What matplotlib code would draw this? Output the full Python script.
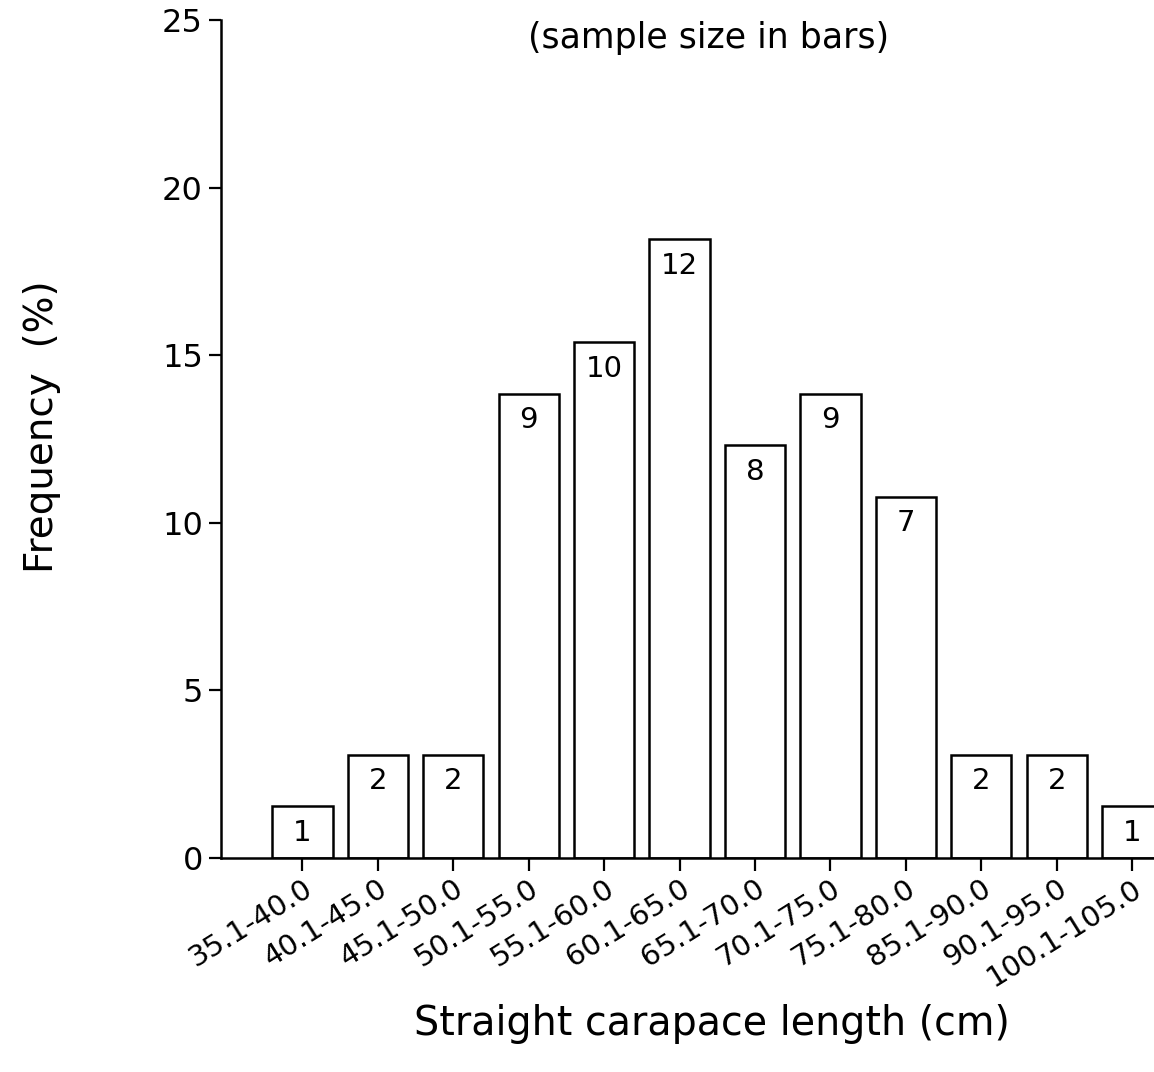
import matplotlib
matplotlib.use("Agg")
import matplotlib.pyplot as plt

plt.rcParams['font.family'] = ['DejaVu Sans']

# Size classes of straight carapace length (cm) and number of turtles in each
classes = ["35.1-40.0", "40.1-45.0", "45.1-50.0", "50.1-55.0", "55.1-60.0",
           "60.1-65.0", "65.1-70.0", "70.1-75.0", "75.1-80.0", "85.1-90.0",
           "90.1-95.0", "100.1-105.0"]
counts = [1, 2, 2, 9, 10, 12, 8, 9, 7, 2, 2, 1]
yticks = [0, 5, 10, 15, 20, 25]

total = sum(counts)
freq = [100.0 * c / total for c in counts]

W, H = 1154, 1072
fig = plt.figure(figsize=(W / 100, H / 100), dpi=100)
ax = fig.add_axes([221 / W, (H - 858) / H, 1 - 221 / W, (858 - 20) / H])

x = list(range(len(classes)))
ax.bar(x, freq, width=0.8, facecolor="white", edgecolor="black", linewidth=1.8)

for xi, f, c in zip(x, freq, counts):
    ax.annotate(str(c), (xi, f), xytext=(0, -19), textcoords="offset points",
                ha="center", va="center", fontsize=21, clip_on=True)

ax.set_xlim(-1.08, 11.29)
ax.set_ylim(0, 25)
ax.set_yticks(yticks)
ax.set_yticklabels([str(t) for t in yticks], fontsize=23)
ax.set_xticks(x)
ax.set_xticklabels(classes, fontsize=21, rotation=32, ha="right", va="top",
                   rotation_mode="anchor")
ax.tick_params(axis="both", direction="out", length=9, width=1.6, pad=4)
ax.tick_params(axis="x", pad=3)

for s in ("top", "right"):
    ax.spines[s].set_visible(False)
for s in ("left", "bottom"):
    ax.spines[s].set_linewidth(1.8)

fig.text(709 / W, 1 - 38 / H, "(sample size in bars)", ha="center", va="center",
         fontsize=25)
fig.text(42 / W, 1 - 427 / H, "Frequency  (%)", ha="center", va="center",
         rotation=90, fontsize=28)
fig.text(712 / W, 1 - 1024 / H, "Straight carapace length (cm)", ha="center",
         va="center", fontsize=28.5)

fig.savefig("out.png", dpi=100)
